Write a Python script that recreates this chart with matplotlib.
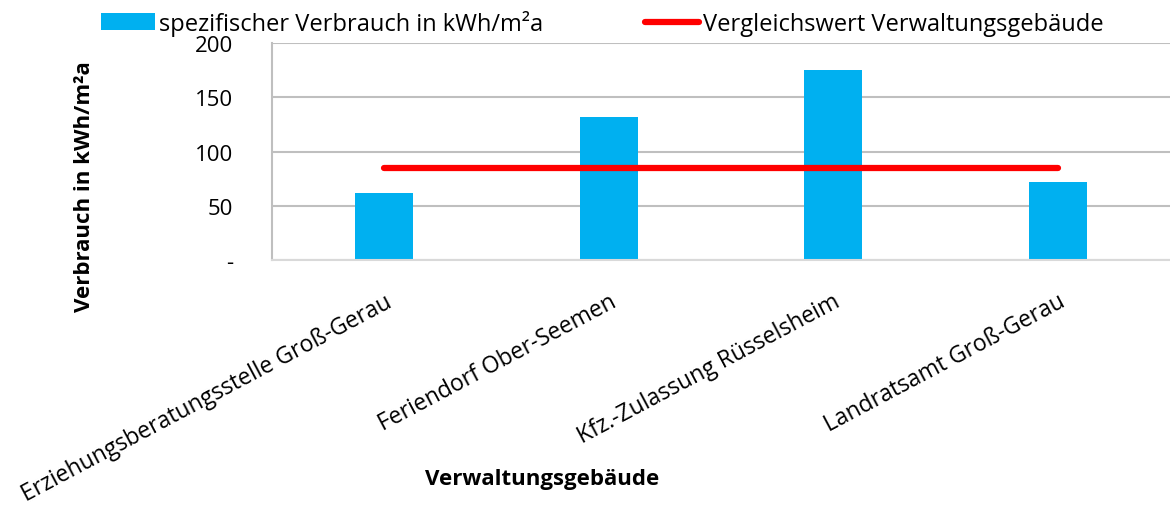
import matplotlib
matplotlib.use("Agg")
import matplotlib.pyplot as plt
from matplotlib.lines import Line2D
from matplotlib.patches import Patch

plt.rcParams['font.family'] = ['Open Sans', 'DejaVu Sans']

# data
gebaeude = ["Erziehungsberatungsstelle Groß-Gerau", "Feriendorf Ober-Seemen",
            "Kfz.-Zulassung Rüsselsheim", "Landratsamt Groß-Gerau"]
verbrauch = [62, 132, 175, 72]
vergleichswert = [85, 85, 85, 85]
y_ticks = [0, 50, 100, 150, 200]
y_labels = ["-", "50", "100", "150", "200"]

BLUE = "#00B0F0"
RED = "#FF0000"
GRID = "#BFBFBF"

fig = plt.figure(figsize=(11.7, 5.06), dpi=100)
ax = fig.add_axes([0.2325, 0.484, 0.7675, 0.429])

x = list(range(len(gebaeude)))
ax.bar(x, verbrauch, width=0.26, color=BLUE, zorder=2)
ax.plot(x, vergleichswert, color=RED, linewidth=4.5, solid_capstyle='round', zorder=3)

ax.set_xlim(-0.5, len(gebaeude) - 0.5)
ax.set_ylim(0, 200)
ax.set_yticks(y_ticks)
ax.set_yticklabels(y_labels, fontsize=16)
ax.yaxis.grid(True, color=GRID, linewidth=1.5, zorder=0)
ax.set_axisbelow(True)
ax.tick_params(axis='y', length=0, pad=28)

ax.set_xticks(x)
ax.set_xticklabels(gebaeude, rotation=28, ha='right', rotation_mode='anchor', fontsize=16.5)
ax.tick_params(axis='x', length=0, pad=21)

for s in ['top', 'right']:
    ax.spines[s].set_visible(False)
ax.spines['left'].set_color(GRID)
ax.spines['left'].set_linewidth(1.5)
ax.spines['bottom'].set_color("#D9D9D9")
ax.spines['bottom'].set_linewidth(1.5)

fig.text(542 / 1170, 1 - 480 / 506, "Verwaltungsgebäude", ha='center', va='center',
         fontsize=16, fontweight='bold')
fig.text(85 / 1170, 1 - 187 / 506, "Verbrauch in kWh/m²a", ha='center', va='center',
         rotation=90, fontsize=16, fontweight='bold')

handles = [Patch(facecolor=BLUE, edgecolor='none'),
           Line2D([0], [0], color=RED, linewidth=4.5, solid_capstyle='round')]
labels = ["spezifischer Verbrauch in kWh/m²a", "Vergleichswert Verwaltungsgebäude"]
fig.legend(handles, labels, loc='center left', bbox_to_anchor=(101 / 1170, 1 - 24 / 506),
           ncol=2, frameon=False, fontsize=17, handlelength=2.3, handletextpad=0.17,
           columnspacing=4.3, borderaxespad=0, borderpad=0)

fig.savefig("out.png", dpi=100)
